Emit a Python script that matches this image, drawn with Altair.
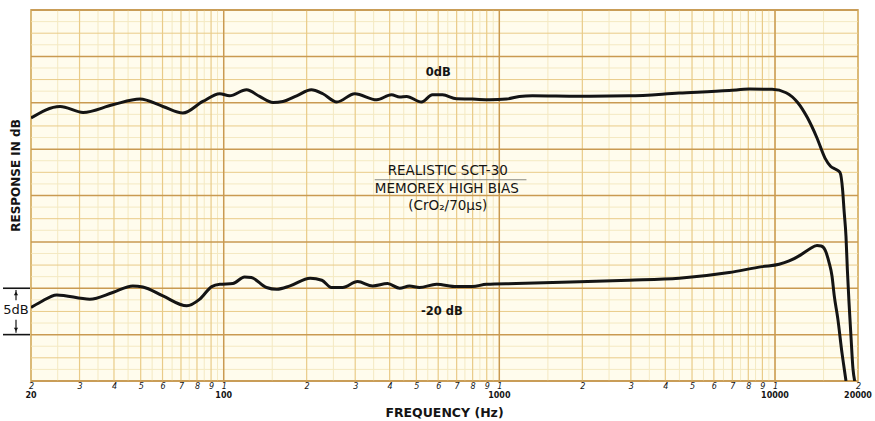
import json
import altair as alt
import pandas as pd

# ---------------- data ----------------
upper_freq = [20, 25.5, 30.9, 39.6, 49.7, 60.2, 71.1, 84, 96.8, 105, 121, 135, 151, 164, 184,
              208, 229, 257, 299, 359, 406, 435, 461, 522, 572, 622, 699, 799, 921, 1061,
              1182, 1318, 1950, 2960, 4490, 6820, 8060, 9760, 10970, 12100, 13100, 14200,
              15200, 15900, 16650, 17200, 17600, 17790, 18090, 18300, 18550, 18860, 19180, 19450]
upper_db = [-1.65, -0.40, -1.04, -0.22, 0.40, -0.40, -1.11, 0.14, 0.97, 0.75, 1.40, 0.68, 0.03, 0.14, 0.75,
            1.40, 0.97, 0.08, 0.97, 0.32, 0.86, 0.61, 0.68, 0.08, 0.86, 0.86, 0.43, 0.40, 0.32, 0.40,
            0.68, 0.75, 0.70, 0.75, 1.04, 1.32, 1.47, 1.45, 1.08, 0.0, -1.6, -3.8,
            -6.0, -6.85, -7.2, -7.5, -9.5, -11.5, -14.4, -18.0, -21.5, -25.2, -28.7, -30.0]

lower_freq = [20, 21.6, 24.8, 32.7, 39.6, 46.8, 50.9, 60.2, 73.5, 81.9, 90.5, 96.8, 108, 119, 126,
              143, 156, 174, 206, 227, 246, 270, 306, 347, 393, 435, 472, 513, 592, 699,
              799, 898, 1153, 1950, 2960, 4490, 6820, 8980, 10350, 11250, 12400, 13300, 14200,
              14700, 15200, 15700, 16100, 16400, 16900, 17500, 17790, 18090]
lower_db = [-22.08, -21.51, -20.72, -21.18, -20.46, -19.75, -19.86, -20.83, -21.90, -21.18, -19.82, -19.57,
            -19.49, -18.78, -18.85, -19.92, -20.11, -19.75, -18.92, -19.14, -19.92, -19.92, -19.28, -19.75,
            -19.49, -20.0, -19.75, -19.92, -19.57, -19.82, -19.82, -19.57, -19.49, -19.30, -19.14, -18.92,
            -18.31, -17.67, -17.42, -17.06, -16.4, -15.8, -15.4, -15.45, -15.9, -17.2, -18.7, -20.8,
            -23.3, -27.0, -28.5, -30.0]

# tick labels of the chart paper
tick_values = [20, 30, 40, 50, 60, 70, 80, 90,
               100, 200, 300, 400, 500, 600, 700, 800, 900,
               1000, 2000, 3000, 4000, 5000, 6000, 7000, 8000, 9000,
               10000, 20000]
tick_digits = ["2", "3", "4", "5", "6", "7", "8", "9",
               "1", "2", "3", "4", "5", "6", "7", "8", "9",
               "1", "2", "3", "4", "5", "6", "7", "8", "9",
               "1", "2"]
decade_values = [20, 100, 1000, 10000, 20000]
decade_labels = ["20", "100", "1000", "10000", "20000"]

# chart-paper grid
grid_x_minor = [25, 35, 45, 55, 65, 75, 85, 95,
                150, 250, 350, 450, 550, 650, 750, 850, 950,
                1500, 2500, 3500, 4500, 5500, 6500, 7500, 8500, 9500, 15000]
grid_x_major = tick_values
grid_x_decade = [100, 1000, 10000]
grid_y_faint = [-28.75, -26.25, -23.75, -21.25, -18.75, -16.25, -13.75, -11.25,
                -8.75, -6.25, -3.75, -1.25, 1.25, 3.75, 6.25, 8.75]
grid_y_mid = [-27.5, -22.5, -17.5, -12.5, -7.5, -2.5, 2.5, 7.5]
grid_y_major = [-30, -25, -20, -15, -10, -5, 0, 5, 10]

# annotations
label_text = ["REALISTIC SCT-30", "MEMOREX HIGH BIAS", "(CrO\u2082/70\u00b5s)"]
label_freq = [650, 645, 650]
label_db = [-7.35, -9.35, -11.15]
level_text = ["0dB", "-20 dB"]
level_freq = [600, 619]
level_db = [3.2, -22.6]
sep_freq = [353]
sep_freq2 = [1254]
sep_db = [-8.3]
bracket_db = [-20, -25]

# ---------------- styling ----------------
BG = "#fffced"
FAINT = "#f4e9c2"
MED = "#e9cb88"
DARK = "#c99a52"
INK = "#141414"

xs = alt.Scale(type="log", domain=[20, 20000], nice=False)
ys = alt.Scale(domain=[-30, 10], nice=False, zero=False)


def vrules(vals, color, w):
    return alt.Chart(pd.DataFrame({"f": vals})).mark_rule(color=color, strokeWidth=w).encode(
        x=alt.X("f:Q", scale=xs, axis=None))


def hrules(vals, color, w):
    return alt.Chart(pd.DataFrame({"db": vals})).mark_rule(color=color, strokeWidth=w).encode(
        y=alt.Y("db:Q", scale=ys, axis=None))


label_expr = "{}[indexof({}, datum.value)]".format(json.dumps(tick_digits), json.dumps(tick_values))

curves = pd.concat([
    pd.DataFrame({"f": upper_freq, "db": upper_db, "trace": "upper"}),
    pd.DataFrame({"f": lower_freq, "db": lower_db, "trace": "lower"}),
])

# invisible first layer that carries the axes
axes_layer = alt.Chart(curves).mark_line(strokeOpacity=0).encode(
    x=alt.X("f:Q", scale=xs, axis=alt.Axis(
        orient="bottom",
        values=tick_values, labelExpr=label_expr, title="FREQUENCY (Hz)",
        ticks=False, domain=False, grid=False,
        labelFont="DejaVu Sans", labelFontStyle="italic", labelFontSize=8, labelColor=INK,
        labelPadding=1, labelOverlap=False, labelFlush=False, labelBaseline="top",
        titleFont="DejaVu Sans", titleFontSize=12.5, titleFontWeight="bold", titleColor=INK,
        titleX=413, titleY=31, titleAlign="center", titleBaseline="middle")),
    y=alt.Y("db:Q", scale=ys, axis=alt.Axis(
        orient="left",
        title="RESPONSE IN dB", labels=False, ticks=False, domain=False, grid=False,
        titleFont="DejaVu Sans", titleFontSize=12, titleFontWeight="bold", titleColor=INK,
        titleX=-16, titleY=165, titleAngle=270, titleAlign="center", titleBaseline="middle")),
    detail="trace:N",
)

curve_layer = alt.Chart(curves).mark_line(
    color=INK, strokeWidth=3, interpolate="monotone", clip=True
).encode(
    x=alt.X("f:Q", scale=xs, axis=None),
    y=alt.Y("db:Q", scale=ys, axis=None),
    detail="trace:N",
)

decades = alt.Chart(pd.DataFrame({"f": decade_values, "t": decade_labels})).mark_text(
    font="DejaVu Sans", fontSize=8, fontWeight="bold", color=INK, baseline="middle"
).encode(x=alt.X("f:Q", scale=xs, axis=None), y=alt.value(386), text="t:N")

labels = alt.Chart(pd.DataFrame({"f": label_freq, "db": label_db, "t": label_text})).mark_text(
    font="DejaVu Sans", fontSize=13.5, color=INK, baseline="middle"
).encode(x=alt.X("f:Q", scale=xs, axis=None), y=alt.Y("db:Q", scale=ys, axis=None), text="t:N")

levels = alt.Chart(pd.DataFrame({"f": level_freq, "db": level_db, "t": level_text})).mark_text(
    font="DejaVu Sans", fontSize=11.5, fontWeight="bold", color=INK, baseline="middle"
).encode(x=alt.X("f:Q", scale=xs, axis=None), y=alt.Y("db:Q", scale=ys, axis=None), text="t:N")

sep = alt.Chart(pd.DataFrame({"f": sep_freq, "f2": sep_freq2, "db": sep_db})).mark_rule(
    color="#8a8a80", strokeWidth=1.2
).encode(x=alt.X("f:Q", scale=xs, axis=None), x2="f2:Q", y=alt.Y("db:Q", scale=ys, axis=None))

# 5 dB scale bracket in the left margin
br_df = pd.DataFrame({"db": bracket_db})
bracket_h = alt.Chart(br_df).mark_rule(color=INK, strokeWidth=1.6).encode(
    x=alt.value(-28), x2=alt.value(-1), y=alt.Y("db:Q", scale=ys, axis=None))
bracket_v = alt.Chart(pd.DataFrame({"a": [-20.2, -23.4], "b": [-21.3, -24.8]})).mark_rule(
    color=INK, strokeWidth=1.2).encode(
    x=alt.value(-15), y=alt.Y("a:Q", scale=ys, axis=None), y2="b:Q")
arrow_up = alt.Chart(pd.DataFrame({"db": [-20.55]})).mark_point(
    shape="triangle-up", filled=True, size=18, color=INK, opacity=1).encode(
    x=alt.value(-15), y=alt.Y("db:Q", scale=ys, axis=None))
arrow_dn = alt.Chart(pd.DataFrame({"db": [-24.45]})).mark_point(
    shape="triangle-down", filled=True, size=18, color=INK, opacity=1).encode(
    x=alt.value(-15), y=alt.Y("db:Q", scale=ys, axis=None))
bracket_t = alt.Chart(pd.DataFrame({"db": [-22.3], "t": ["5dB"]})).mark_text(
    font="DejaVu Sans", fontSize=13, color=INK, baseline="middle", align="center").encode(
    x=alt.value(-15), y=alt.Y("db:Q", scale=ys, axis=None), text="t:N")

chart = alt.layer(
    axes_layer,
    vrules(grid_x_minor, FAINT, 1),
    hrules(grid_y_faint, FAINT, 1),
    hrules(grid_y_mid, MED, 1),
    vrules(grid_x_major, MED, 1.2),
    vrules(grid_x_decade, DARK, 1.4),
    hrules(grid_y_major, DARK, 1.5),
    sep, labels, levels,
    curve_layer, decades,
    bracket_h, bracket_v, arrow_up, arrow_dn, bracket_t,
).resolve_axis(
    x="independent", y="independent"
).properties(
    width=827, height=371, autosize="none",
    padding={"left": 31, "top": 10, "right": 17, "bottom": 40},
    background="#ffffff",
).configure_view(fill=BG, stroke="#b98b3e", strokeWidth=1.6)

chart.save("out.html", embed_options={"renderer": "svg", "actions": False})
